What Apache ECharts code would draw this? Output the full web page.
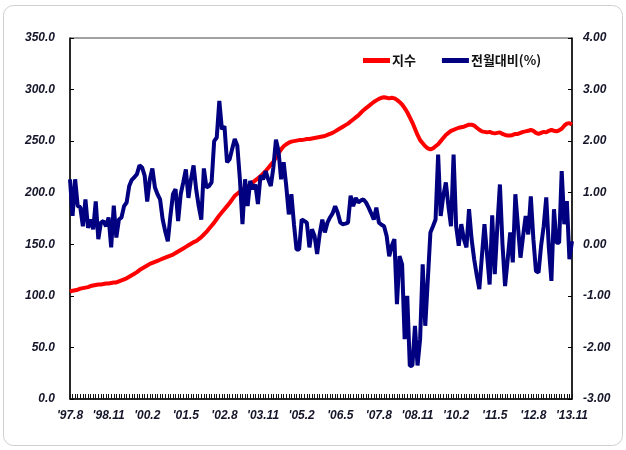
<!DOCTYPE html>
<html>
<head>
<meta charset="utf-8">
<script src="https://cdn.jsdelivr.net/npm/echarts@6/dist/echarts.min.js"></script>
<style>html,body{margin:0;padding:0;background:#fff;}#c{width:626px;height:450px;}</style>
</head>
<body>
<div id="c"></div>
<script>
// Monthly categories: '97.8 .. '13.11
const startYear = 1997, startMonth = 8, monthCount = 196;
const categories = [];
for (let k = 0; k < monthCount; k++) {
  const t = (startMonth - 1) + k;
  const y = startYear + Math.floor(t / 12);
  const m = (t % 12) + 1;
  categories.push("'" + String(y % 100).padStart(2, '0') + '.' + m);
}

const seriesNames = ['지수', '전월대비(%)'];

// 지수 (left axis)
const indexValues = [
  104, 105, 105.5, 106, 107, 107.5, 108, 108.5, 109.5, 110, 110.5,
  111, 111, 111.5, 112, 112, 112.5, 113, 113, 114, 115, 116,
  117, 118.5, 120, 121.5, 123, 125, 126.5, 128, 129.5, 131, 132,
  133, 134, 135, 136, 137, 138, 139, 140, 141.5, 143, 144.5,
  146, 147.5, 149, 150.5, 152, 153, 155, 157, 159.5, 162, 165,
  168, 171, 174.5, 178, 181, 184, 187, 190, 193.5, 197, 199,
  201, 203, 205, 206, 208, 210, 212, 214, 216, 218.5, 221,
  224, 227, 230, 234, 238, 242, 245, 247, 248.5, 249.5, 250,
  250.5, 251, 251, 251.5, 252, 252, 252.5, 253, 253.5, 254, 254.5,
  255, 256, 257, 258, 259.5, 261, 262.5, 264, 265.5, 267, 269,
  271, 273, 275, 277.5, 280, 282, 284, 286, 288, 289.5, 291,
  292, 292.5, 292, 291.5, 292, 291.5, 290, 288, 285.5, 282, 278,
  273, 268, 262, 256, 251, 248, 245, 243, 242, 243, 245,
  247, 250, 253, 256, 258, 260, 261, 262, 263, 263.5, 264,
  265, 266, 266, 265, 263, 261, 259.5, 259, 258.5, 259, 258,
  257.5, 258, 258.5, 257, 256, 255.5, 255.5, 256, 257, 257, 258,
  259, 259.5, 260, 261, 260, 258, 257, 258, 259, 258.5, 260,
  261, 260, 259.5, 260.5, 262, 265, 267, 267.5, 266
];

// 전월대비(%) (right axis)
const momValues = [
  1.26, 0.55, 1.26, 0.74, 0.72, 0.35, 0.87, 0.32, 0.48, 0.29,
  0.83, 0.1, 0.42, 0.45, 0.35, 0.52, -0.06, 0.75, 0.13, 0.48,
  0.52, 0.74, 0.81, 1.13, 1.25, 1.3, 1.36, 1.53, 1.49, 1.33,
  0.83, 1.26, 1.47, 1.1, 0.97, 0.87, 0.48, 0.25, 0.06, 0.55,
  0.97, 1.07, 0.45, 0.97, 1.2, 1.45, 0.9, 1.26, 1.53, 1.07,
  0.74, 0.48, 1.47, 1.1, 1.13, 1.2, 2.0, 2.07, 2.78, 2.23,
  2.29, 1.59, 1.65, 1.85, 2.04, 1.91, 1.26, 0.39, 1.26, 0.74,
  1.23, 1.07, 1.16, 0.78, 1.33, 1.26, 1.42, 1.26, 1.13, 1.49,
  2.03, 1.81, 1.26, 1.59, 1.13, 0.58, 0.97, 0.39, -0.1, -0.1,
  0.48, 0.45, 0.42, -0.06, 0.29, 0.16, -0.19, 0.2, 0.48, 0.23,
  0.42, 0.52, 0.6, 0.74, 0.61, 0.42, 0.39, 0.4, 0.42, 0.94,
  0.74, 0.9, 0.81, 0.85, 0.87, 0.81, 0.71, 0.6, 0.48, 0.71,
  0.42, 0.38, 0.35, 0.16, -0.23, -0.03, 0.1, -1.16, -0.23, -0.39,
  -1.84, -1.0, -2.36, -2.35, -1.58, -2.35, -1.84, -0.39, -1.58, -0.68,
  0.23, 0.35, 0.48, 1.74, 0.55, 0.94, 1.2, 0.74, 0.35, 1.74,
  0.35, -0.03, 0.39, 0.1, -0.06, 0.68, 0.1, -0.29, -0.6, -0.87,
  -0.23, 0.39, -0.2, -0.78, 0.56, -0.58, 0.35, 1.16, 0.0, -0.81,
  -0.3, 0.23, -0.35, 0.97, 0.35, -0.26, 0.16, 0.55, 0.19, 0.93,
  0.1, -0.52, -0.55, -0.03, 0.35, 0.91, -0.06, -0.71, 0.68, 0.03,
  0.03, 1.42, 0.39, 0.84, -0.29, 0.06
];

const leftTicks = { min: 0, max: 350, interval: 50 };
const rightTicks = { min: -3, max: 4, interval: 1 };

const chart = echarts.init(document.getElementById('c'), null, { renderer: 'canvas' });
const labelFont = {
  fontFamily: "'Liberation Sans', Arial, sans-serif",
  fontWeight: 'bold',
  fontStyle: 'italic',
  fontSize: 12,
  color: '#15152a'
};
chart.setOption({
  animation: false,
  backgroundColor: '#ffffff',
  graphic: [{
    type: 'rect',
    shape: { x: 3.5, y: 5.5, width: 619, height: 440, r: 10 },
    style: { fill: 'none', stroke: '#cfcfcf', lineWidth: 1 },
    z: -1
  }],
  legend: {
    data: seriesNames,
    left: 358,
    top: 49,
    itemWidth: 27,
    itemHeight: 5,
    itemGap: 26,
    icon: 'rect',
    textStyle: {
      fontFamily: "'Noto Sans CJK KR', sans-serif",
      fontWeight: 'bold',
      fontSize: 13,
      color: '#111',
      padding: [0, 0, 0, -3]
    }
  },
  grid: {
    left: 70, right: 54, top: 38, bottom: 51,
    show: true, borderColor: '#444', borderWidth: 1, backgroundColor: 'transparent'
  },
  xAxis: {
    type: 'category',
    data: categories,
    boundaryGap: false,
    axisLine: { lineStyle: { color: '#000', width: 1.5 } },
    axisTick: { inside: true, length: 5, interval: 0, lineStyle: { color: '#111', width: 1 } },
    axisLabel: Object.assign({ interval: 14, margin: 11 }, labelFont),
    splitLine: { show: false }
  },
  yAxis: [{
    type: 'value',
    min: leftTicks.min, max: leftTicks.max, interval: leftTicks.interval,
    position: 'left',
    axisLine: { show: true, lineStyle: { color: '#000', width: 1.5 } },
    axisTick: { show: true, inside: true, length: 4, lineStyle: { color: '#000' } },
    axisLabel: Object.assign({ margin: 15, formatter: v => v.toFixed(1) }, labelFont),
    splitLine: { show: false }
  }, {
    type: 'value',
    min: rightTicks.min, max: rightTicks.max, interval: rightTicks.interval,
    position: 'right',
    axisLine: { show: true, lineStyle: { color: '#000', width: 1.5 } },
    axisTick: { show: true, inside: true, length: 4, lineStyle: { color: '#000' } },
    axisLabel: Object.assign({ margin: 11, formatter: v => v.toFixed(2) }, labelFont),
    splitLine: { show: false }
  }],
  series: [{
    name: seriesNames[0],
    type: 'line',
    yAxisIndex: 0,
    data: indexValues,
    showSymbol: false,
    symbol: 'none',
    itemStyle: { color: '#ff0000' },
    lineStyle: { color: '#ff0000', width: 4 },
    z: 2
  }, {
    name: seriesNames[1],
    type: 'line',
    yAxisIndex: 1,
    data: momValues,
    showSymbol: false,
    symbol: 'none',
    itemStyle: { color: '#000080' },
    lineStyle: { color: '#000080', width: 4 },
    z: 3
  }]
});
</script>
</body>
</html>
